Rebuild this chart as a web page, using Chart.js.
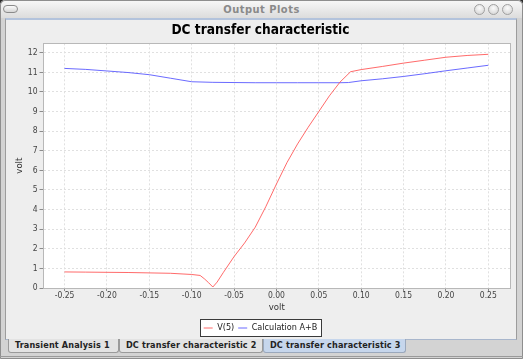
<!DOCTYPE html>
<html>
<head>
<meta charset="utf-8">
<title>Output Plots</title>
<script src="https://cdn.jsdelivr.net/npm/chart.js"></script>
<style>
  html, body { margin: 0; padding: 0; background: #2b2b2b; }
  #win { position: absolute; left: 0; top: 0; width: 523px; height: 359px; background: #d3d3d3;
         font-family: "DejaVu Sans Condensed", "DejaVu Sans", sans-serif; overflow: hidden; border-radius: 5px 5px 0 0; }
  #edge { position: absolute; left: 0; top: 0; width: 521px; height: 357px; border: 1px solid #8e8e8e; border-radius: 5px 5px 0 0; }
  #bar { position: absolute; left: 1px; top: 1px; width: 521px; height: 17px; background: linear-gradient(#f7f7f7, #dcdcdc);
         text-align: center; font-size: 11px; font-weight: bold; color: #8a8a8a; line-height: 18px; letter-spacing: 0.5px; border-radius: 5px 5px 0 0; }
  #menu { position: absolute; left: 3px; top: 5px; width: 13px; height: 6px; border: 1px solid #8a8a8a; border-radius: 4px; background: linear-gradient(#fafafa, #d6d6d6); }
  .dot { position: absolute; top: 4px; width: 9px; height: 9px; border: 1px solid #a0a0a0; border-radius: 50%; background: radial-gradient(circle at 50% 35%, #fbfbfb, #d0d0d0); }
  #panel { position: absolute; left: 5px; top: 18px; width: 510px; height: 319px; background: #eeeeee;
           border: 1px solid #9c9c9c; border-top: 2px solid #b3c3dc; border-bottom: 1px solid #a8b6cc; }
  .tab { position: absolute; top: 339px; height: 14px; border: 1px solid #9a9a9a; border-top: none; background: #e3e3e3;
         font-size: 9px; font-weight: bold; color: #222; line-height: 13px; border-radius: 0 0 3px 3px; box-sizing: border-box; padding-left: 6px; white-space: nowrap; letter-spacing: 0.15px; }
  .tab.on { background: #c6d6ec; border-color: #9aa8bc; }
  #foot { position: absolute; left: 0; top: 356px; width: 523px; height: 1px; background: #9a9a9a; }
  #c { position: absolute; left: 0; top: 0; }
</style>
</head>
<body>
<div id="win">
  <div id="edge"></div>
  <div id="bar">Output Plots</div>
  <div id="menu"></div>
  <div class="dot" style="left:474px"></div>
  <div class="dot" style="left:488px"></div>
  <div class="dot" style="left:502px"></div>
  <div id="panel"></div>
  <div class="tab" style="left:8px;width:111px">Transient Analysis 1</div>
  <div class="tab" style="left:119px;width:144px">DC transfer characteristic 2</div>
  <div class="tab on" style="left:263px;width:143px">DC transfer characteristic 3</div>
  <div id="foot"></div>
</div>
<canvas id="c" width="523" height="359"></canvas>
<script>
const FONT = '"DejaVu Sans Condensed", "DejaVu Sans", sans-serif';

const chartTitle = 'DC transfer characteristic';
const xTitle = 'volt';
const yTitle = 'volt';
const seriesNames = ['V(5)', 'Calculation A+B'];

// V(5)
const redX = [-0.25, -0.225, -0.2, -0.175, -0.15, -0.125, -0.1, -0.09, -0.085, -0.08, -0.075, -0.07, -0.0625,
              -0.05, -0.0375, -0.025, -0.0125, 0, 0.0125, 0.025, 0.0375, 0.05, 0.0625, 0.075, 0.0875,
              0.1, 0.125, 0.15, 0.175, 0.2, 0.225, 0.25];
const redY = [0.82, 0.81, 0.8, 0.79, 0.77, 0.75, 0.69, 0.64, 0.47, 0.27, 0.05, 0.3, 0.8,
              1.6, 2.3, 3.1, 4.15, 5.3, 6.4, 7.35, 8.2, 9.0, 9.8, 10.5, 11.03,
              11.14, 11.3, 11.47, 11.62, 11.77, 11.86, 11.92];

// Calculation A+B
const blueX = [-0.25, -0.225, -0.2, -0.175, -0.15, -0.125, -0.1, -0.075, -0.05, -0.025, 0, 0.025, 0.05,
               0.075, 0.085, 0.1, 0.125, 0.15, 0.175, 0.2, 0.225, 0.25];
const blueY = [11.2, 11.15, 11.07, 10.99, 10.88, 10.7, 10.52, 10.49, 10.48, 10.47, 10.47, 10.47, 10.47,
               10.47, 10.48, 10.57, 10.67, 10.79, 10.93, 11.08, 11.22, 11.36];

const toPoints = (xs, ys) => xs.map((x, i) => ({x: x, y: ys[i]}));

// white plot background, grey outline, boxed legend
const framePlugin = {
  id: 'frame',
  beforeDraw(chart) {
    const {ctx, chartArea: a, legend} = chart;
    ctx.save();
    ctx.fillStyle = '#ffffff';
    ctx.fillRect(a.left, a.top, a.right - a.left, a.bottom - a.top);
    const hb = legend.legendHitBoxes;
    const l = Math.round(Math.min(...hb.map(h => h.left)) - 4);
    const r = Math.round(Math.max(...hb.map(h => h.left + h.width)) + 4);
    const t = Math.round(hb[0].top - 4.5);
    const b = Math.round(hb[0].top + hb[0].height + 3.5);
    ctx.fillRect(l, t, r - l, b - t);
    ctx.strokeStyle = '#3a3a3a';
    ctx.lineWidth = 1;
    ctx.strokeRect(l + 0.5, t + 0.5, r - l, b - t);
    ctx.restore();
  },
  afterDatasetsDraw(chart) {
    const {ctx, chartArea: a} = chart;
    ctx.save();
    ctx.strokeStyle = '#b8b8b8';
    ctx.lineWidth = 1;
    ctx.strokeRect(Math.floor(a.left) + 0.5, Math.floor(a.top) + 0.5,
                   Math.round(a.right - a.left), Math.round(a.bottom - a.top));
    ctx.restore();
  }
};

new Chart(document.getElementById('c').getContext('2d'), {
  type: 'line',
  data: {
    datasets: [{
      label: seriesNames[0],
      data: toPoints(redX, redY),
      borderColor: 'rgba(255, 80, 80, 0.85)',
      borderWidth: 1,
      pointRadius: 0,
      fill: false
    }, {
      label: seriesNames[1],
      data: toPoints(blueX, blueY),
      borderColor: 'rgba(80, 80, 255, 0.85)',
      borderWidth: 1,
      pointRadius: 0,
      fill: false
    }]
  },
  options: {
    responsive: false,
    animation: false,
    devicePixelRatio: 1,
    layout: { padding: { left: 11, right: 13, top: 22.3, bottom: 16.5 } },
    plugins: {
      title: {
        display: true,
        text: chartTitle,
        color: '#000',
        font: { family: FONT, size: 13.6, weight: 'bold' },
        padding: { top: 0, bottom: 4.7 }
      },
      legend: {
        position: 'bottom',
        labels: {
          usePointStyle: true,
          pointStyle: 'line',
          pointStyleWidth: 9,
          padding: 4,
          color: '#222',
          font: { family: FONT, size: 9 }
        }
      },
      tooltip: { enabled: false }
    },
    scales: {
      x: {
        type: 'linear',
        min: -0.2748,
        max: 0.2756,
        afterFit(s) { s.height = 31.5; },
        ticks: {
          stepSize: 0.05,
          includeBounds: false,
          autoSkip: false,
          maxRotation: 0,
          padding: 0,
          color: '#444',
          font: { family: FONT, size: 8.5 },
          callback: v => v.toFixed(2)
        },
        grid: { color: '#e0e0e0', tickColor: '#8c8c8c', tickLength: 3, lineWidth: 1 },
        border: { display: false, dash: [2, 2] },
        title: {
          display: true, text: xTitle, color: '#333',
          font: { family: FONT, size: 9.5 },
          padding: { top: 0, bottom: 6.3 }
        }
      },
      y: {
        min: 0,
        max: 12.48,
        afterFit(s) { s.width = 32.5; },
        ticks: {
          stepSize: 1,
          includeBounds: false,
          padding: 2,
          color: '#444',
          font: { family: FONT, size: 8.5 }
        },
        grid: { color: '#e0e0e0', tickColor: '#8c8c8c', tickLength: 4, lineWidth: 1 },
        border: { display: false, dash: [2, 2] },
        title: {
          display: true, text: yTitle, color: '#333',
          font: { family: FONT, size: 9.5 },
          padding: { top: 3.3, bottom: 0 }
        }
      }
    }
  },
  plugins: [framePlugin]
});
</script>
</body>
</html>
